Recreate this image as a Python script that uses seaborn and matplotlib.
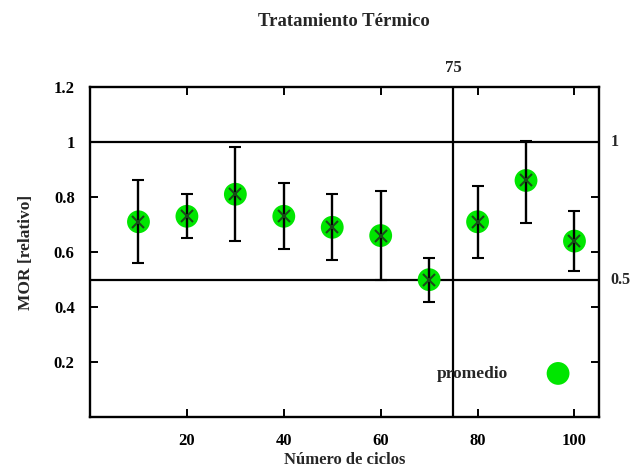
import numpy as np
import pandas as pd
import matplotlib
matplotlib.use("Agg")
import matplotlib.pyplot as plt
import seaborn as sns

ciclos = [10, 20, 30, 40, 50, 60, 70, 80, 90, 100]
promedio = [0.71, 0.73, 0.81, 0.73, 0.69, 0.66, 0.50, 0.71, 0.86, 0.64]
err_sup = [0.86, 0.81, 0.98, 0.85, 0.81, 0.82, 0.58, 0.84, 1.005, 0.75]
err_inf = [0.56, 0.65, 0.64, 0.61, 0.57, 0.50, 0.42, 0.58, 0.705, 0.53]
x_ticks = [20, 40, 60, 80, 100]
y_ticks = [0.2, 0.4, 0.6, 0.8, 1.0, 1.2]
y_ticklabels = ["0.2", "0.4", "0.6", "0.8", "1", "1.2"]
ref_y = [1.0, 0.5]
ref_y_labels = ["1", "0.5"]
ref_x = 75

sns.set_style("ticks")
plt.rcParams['font.family'] = ['Liberation Serif', 'DejaVu Serif']

df = pd.DataFrame({"ciclos": ciclos, "promedio": promedio})

fig = plt.figure(figsize=(6.3, 4.68), dpi=100)
ax = fig.add_axes([0.1429, 0.108, 0.8074, 0.7066])

yerr = [np.array(promedio) - np.array(err_inf), np.array(err_sup) - np.array(promedio)]

sns.scatterplot(data=df, x="ciclos", y="promedio", ax=ax, s=270, color="#00e600",
                edgecolor="none", label="promedio", zorder=3)
ax.errorbar(ciclos, promedio, yerr=yerr, fmt="x", color="#1a4a1a", ecolor="black",
            elinewidth=1.7, capsize=4, capthick=1.7, markersize=8, markeredgewidth=1.5,
            zorder=4)

for y in ref_y:
    ax.axhline(y, color="black", lw=1.6, zorder=1)
ax.axvline(ref_x, color="black", lw=1.6, zorder=1)

ax.set_xlim(0, 105)
ax.set_ylim(0, 1.2)
ax.set_xticks(x_ticks)
ax.set_xticklabels([str(v) for v in x_ticks])
ax.set_yticks(y_ticks)
ax.set_yticklabels(y_ticklabels)
ax.tick_params(direction="in", length=6, width=1.4, top=True, right=True,
               labelsize=12, pad=11, colors="black")
for lab in ax.get_xticklabels() + ax.get_yticklabels():
    lab.set_fontweight("bold")
for sp in ax.spines.values():
    sp.set_visible(True)
    sp.set_linewidth(1.7)
    sp.set_color("black")

ax.text(ref_x, 1.24, str(ref_x), ha="center", va="bottom", fontsize=12,
        fontweight="bold", clip_on=False)
for y, lab in zip(ref_y, ref_y_labels):
    ax.text(107.4, y, lab, ha="left", va="center", fontsize=11.5,
            fontweight="bold", clip_on=False)

ax.set_xlabel("Número de ciclos", fontsize=12, fontweight="bold")
ax.set_ylabel("MOR [relativo]", fontsize=12.5, fontweight="bold")
ax.xaxis.labelpad = 2
ax.yaxis.labelpad = 14
ax.set_title("Tratamiento Térmico", fontsize=13.5, fontweight="bold", pad=44)

leg = ax.legend(loc="lower right", bbox_to_anchor=(0.985, 0.06), frameon=False,
                markerfirst=False, handletextpad=1.9, markerscale=1.0,
                prop={"size": 12.5, "weight": "bold"})

fig.savefig("out.png", dpi=100)
